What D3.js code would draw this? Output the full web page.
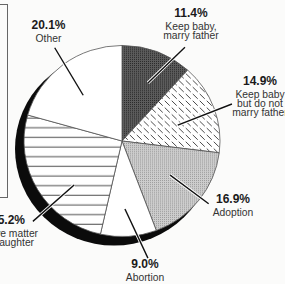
<!DOCTYPE html>
<html>
<head>
<meta charset="utf-8">
<script src="https://cdn.jsdelivr.net/npm/d3@7.9.0/dist/d3.min.js"></script>
<style>
  html, body { margin: 0; padding: 0; background: #fbfbfa; }
  svg { display: block; font-family: "Liberation Sans", Arial, Helvetica, sans-serif; }
</style>
</head>
<body>
<svg id="chart" width="285" height="284"></svg>
<script>
// data (labels don't quite sum to 100, pie normalises)
const categories = ['Keep baby, marry father', 'Keep baby but do not marry father', 'Adoption',
                    'Abortion', 'Leave matter to daughter', 'Other'];
const shares = [11.4, 14.9, 16.9, 9.0, 25.2, 20.1];
const pctLabels = ['11.4%', '14.9%', '16.9%', '9.0%', '25.2%', '20.1%'];
const nameLines = [['Keep baby,', 'marry father'], ['Keep baby', 'but do not', 'marry father'],
                   ['Adoption'], ['Abortion'], ['Leave matter', 'to daughter'], ['Other']];

// layout only
const fills = ['url(#dark)', 'url(#diag)', 'url(#light)', '#fff', 'url(#horiz)', '#fff'];
const labelAt = [[191, 17], [260, 85], [233, 203], [145, 268], [8, 224], [48.5, 29]];
// leader: [inner angle nudge deg, inner r, outer angle nudge deg, outer r]
const leaderNudge = [[3, 63.6, 12.8, 113], [4.5, 58, 1.8, 116], [-3, 59, -2.4, 107],
                     [1.4, 68, -8.6, 120], [-11.8, 65, -11.3, 120], [-3.2, 60, 1.3, 115]];

const cx = 122, cy = 141, r = 98, squash = 0.975;

const svg = d3.select('#chart');
const defs = svg.append('defs');

// dark stipple
let p = defs.append('pattern').attr('id', 'dark').attr('patternUnits', 'userSpaceOnUse')
  .attr('width', 2).attr('height', 2);
p.append('rect').attr('width', 2).attr('height', 2).attr('fill', '#5c5c5c');
p.append('rect').attr('width', 1).attr('height', 1).attr('fill', '#2a2a2a');

// light stipple
p = defs.append('pattern').attr('id', 'light').attr('patternUnits', 'userSpaceOnUse')
  .attr('width', 2).attr('height', 2);
p.append('rect').attr('width', 2).attr('height', 2).attr('fill', '#cdcdcd');
p.append('rect').attr('width', 1).attr('height', 1).attr('fill', '#9c9c9c');

// dashed diagonal hatch
p = defs.append('pattern').attr('id', 'diag').attr('patternUnits', 'userSpaceOnUse')
  .attr('width', 7).attr('height', 7);
p.append('rect').attr('width', 7).attr('height', 7).attr('fill', '#fff');
p.append('line').attr('x1', 1).attr('y1', 1).attr('x2', 5.5).attr('y2', 5.5)
  .attr('stroke', '#333').attr('stroke-width', 0.9).attr('stroke-linecap', 'round');

// horizontal rules
p = defs.append('pattern').attr('id', 'horiz').attr('patternUnits', 'userSpaceOnUse')
  .attr('width', 10).attr('height', 9.9);
p.append('rect').attr('width', 10).attr('height', 9.9).attr('fill', '#fff');
p.append('line').attr('x1', 0).attr('x2', 10).attr('y1', 6.2).attr('y2', 6.2)
  .attr('stroke', '#333').attr('stroke-width', 0.9);

// partial box at the left edge
svg.append('rect').attr('x', -10).attr('y', 4.5).attr('width', 17.5).attr('height', 193)
  .attr('fill', 'none').attr('stroke', '#666').attr('stroke-width', 1);

// shadow / side of the pie
svg.append('ellipse').attr('cx', cx - 8).attr('cy', cy + 8)
  .attr('rx', r + 1).attr('ry', (r + 1) * squash).attr('fill', '#0b0b0b');

const pie = d3.pie().sort(null).value(d => d);
const arcs = pie(shares);
const arc = d3.arc().innerRadius(0).outerRadius(r);

const g = svg.append('g').attr('transform', `translate(${cx},${cy}) scale(1,${squash})`);
g.selectAll('path.slice')
  .data(arcs)
  .join('path')
  .attr('class', 'slice')
  .attr('d', arc)
  .attr('fill', (d, i) => fills[i])
  .attr('stroke', '#555')
  .attr('stroke-width', 0.8);

// leader lines
const toRad = Math.PI / 180;
const pointAt = (a, rad) => d3.arc().innerRadius(rad).outerRadius(rad)
  .centroid({ startAngle: a, endAngle: a });

const leaders = arcs.map((d, i) => {
  const mid = (d.startAngle + d.endAngle) / 2;
  const [da, ri, db, ro] = leaderNudge[i];
  const a = pointAt(mid + da * toRad, ri);
  const b = pointAt(mid + db * toRad, ro);
  return [[cx + a[0], cy + a[1]], [cx + b[0], cy + b[1]]];
});

const lineGen = d3.line();
svg.selectAll('path.casing').data(leaders).join('path').attr('class', 'casing')
  .attr('d', lineGen).attr('stroke', '#fff').attr('stroke-width', 3.2).attr('fill', 'none');
svg.selectAll('path.leader').data(leaders).join('path').attr('class', 'leader')
  .attr('d', lineGen).attr('stroke', '#111').attr('stroke-width', 1.4).attr('fill', 'none');

// labels
categories.forEach((c, i) => {
  const [x, y] = labelAt[i];
  const t = svg.append('text').attr('x', x).attr('y', y).attr('text-anchor', 'middle');
  t.append('tspan').attr('x', x).attr('font-size', 12).attr('font-weight', 'bold')
    .attr('fill', '#1a1a1a').text(pctLabels[i]);
  nameLines[i].forEach((ln, j) => {
    t.append('tspan').attr('x', x).attr('dy', j === 0 ? 12.5 : 9.4)
      .attr('font-size', 10.3).attr('fill', '#333').text(ln);
  });
});
</script>
</body>
</html>
